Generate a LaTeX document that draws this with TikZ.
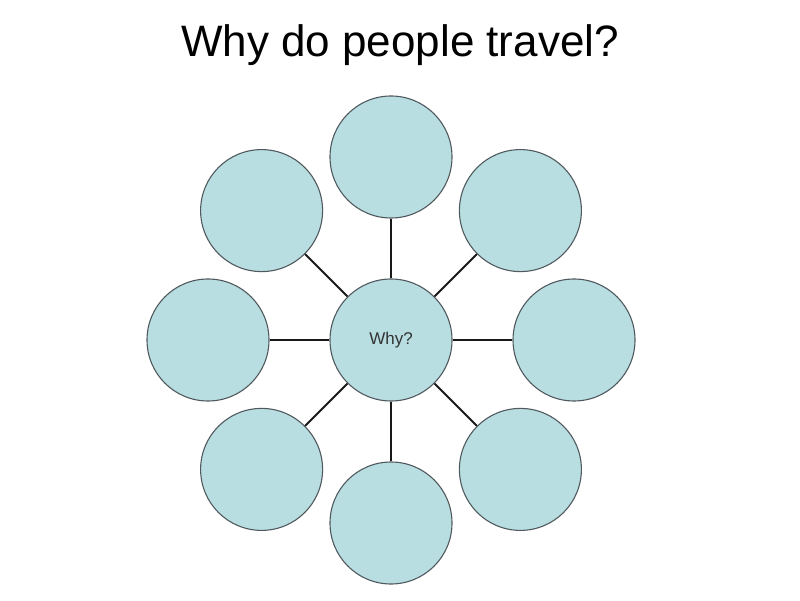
\documentclass[tikz,border=0pt]{standalone}
\usepackage{fontspec}
\setmainfont{Liberation Sans}
\usepackage{tikz}
\usetikzlibrary{positioning}
\definecolor{bubblefill}{RGB}{185,222,226}
\definecolor{bubbleline}{RGB}{80,90,94}
\newdimen\nodeDist
\nodeDist=183pt

\begin{document}
\begin{tikzpicture}[
    x=1pt,y=1pt,
    bubble/.style={%
      draw=bubbleline,
      fill=bubblefill,
      circle,
      line width=1.1pt,
      minimum size=122pt,
      inner sep=0pt,
    },
    spoke/.style={%
      line width=2pt,
      black!90,
    },
  ]

    \useasboundingbox (0,0) rectangle (800,600);

    \node [anchor=base] (title) at (400,543) {\fontsize{44}{50}\selectfont Why do people travel?};

    \node [bubble,font=\fontsize{17}{20}\selectfont,text=black!80] (why) at (391,260) {Why?};
    \path (why) ++(90:\nodeDist) node [bubble] (top) {};
    \path (why) ++(-90:\nodeDist) node [bubble] (bottom) {};
    \path (why) ++(180:\nodeDist) node [bubble] (left) {};
    \path (why) ++(0:\nodeDist) node [bubble] (right) {};
    \path (why) ++(135:\nodeDist) node [bubble] (topleft) {};
    \path (why) ++(45:\nodeDist) node [bubble] (topright) {};
    \path (why) ++(-135:\nodeDist) node [bubble] (bottomleft) {};
    \path (why) ++(-45:\nodeDist) node [bubble] (bottomright) {};

    \draw [spoke] (why) -- (top);
    \draw [spoke] (why) -- (bottom);
    \draw [spoke] (why) -- (left);
    \draw [spoke] (why) -- (right);
    \draw [spoke] (why) -- (topleft);
    \draw [spoke] (why) -- (topright);
    \draw [spoke] (why) -- (bottomleft);
    \draw [spoke] (why) -- (bottomright);
\end{tikzpicture}
\end{document}
